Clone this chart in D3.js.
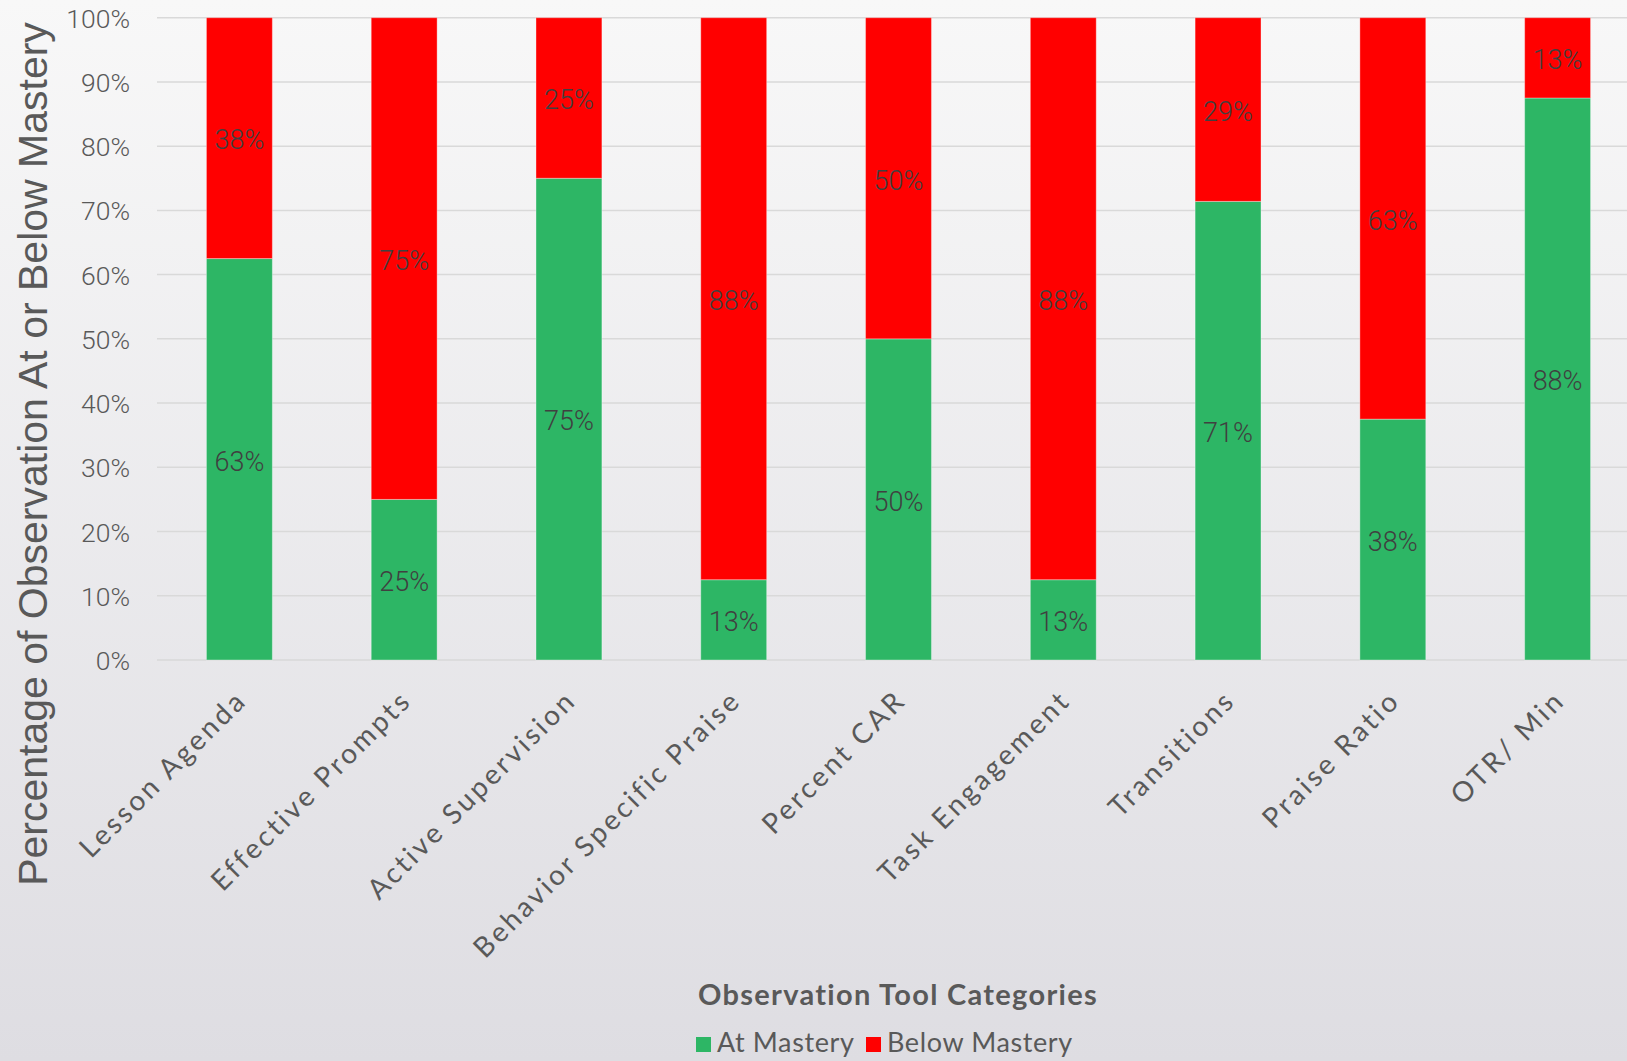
<!DOCTYPE html>
<html>
<head>
<meta charset="utf-8">
<script src="https://cdn.jsdelivr.net/npm/d3@7/dist/d3.min.js"></script>
<style>
  html, body { margin: 0; padding: 0; overflow: hidden; }
  svg { display: block; }
</style>
</head>
<body>
<svg id="chart" width="1627" height="1061"></svg>
<script>
const categories = ["Lesson Agenda", "Effective Prompts", "Active Supervision", "Behavior Specific Praise",
  "Percent CAR", "Task Engagement", "Transitions", "Praise Ratio", "OTR/ Min"];
const atMastery = [62.5, 25, 75, 12.5, 50, 12.5, 71.4, 37.5, 87.5];
const belowMastery = [37.5, 75, 25, 87.5, 50, 87.5, 28.6, 62.5, 12.5];
const seriesNames = ["At Mastery", "Below Mastery"];
const yTicks = [0, 10, 20, 30, 40, 50, 60, 70, 80, 90, 100];

const W = 1627, H = 1061;
const svg = d3.select("#chart");

// background gradient
const defs = svg.append("defs");
const grad = defs.append("linearGradient").attr("id", "bg").attr("x1", 0).attr("y1", 0).attr("x2", 0).attr("y2", 1);
grad.append("stop").attr("offset", "0%").attr("stop-color", "#f8f8f8");
grad.append("stop").attr("offset", "100%").attr("stop-color", "#dedde2");
svg.append("rect").attr("width", W).attr("height", H).attr("fill", "url(#bg)");

const plot = { left: 157, right: 1640, top: 17.7, bottom: 660 };
const x = d3.scaleBand().domain(categories).range([plot.left, plot.right]).paddingInner(0.6).paddingOuter(0.3);
const y = d3.scaleLinear().domain([0, 100]).range([plot.bottom, plot.top]);
const color = d3.scaleOrdinal().domain(seriesNames).range(["#2db665", "#ff0000"]);

// gridlines
svg.append("g").selectAll("line").data(yTicks).join("line")
  .attr("x1", plot.left).attr("x2", W)
  .attr("y1", d => y(d)).attr("y2", d => y(d))
  .attr("stroke", "#d9d9d9").attr("stroke-width", 1.5);

// y axis labels
const yAxis = d3.axisLeft(y).tickValues(yTicks).tickFormat(d => d + "%").tickSize(0).tickPadding(0);
const yg = svg.append("g").attr("transform", `translate(130,0)`).call(yAxis);
yg.select(".domain").remove();
yg.selectAll("text").attr("font-family", "Roboto, sans-serif").attr("font-weight", 300)
  .attr("font-size", 26.5).attr("fill", "#595959").attr("dy", "0.36em");

// stacked data
const rows = categories.map((c, i) => ({ cat: c, "At Mastery": atMastery[i], "Below Mastery": belowMastery[i] }));
const stack = d3.stack().keys(seriesNames)(rows);

const layers = svg.append("g").selectAll("g").data(stack).join("g").attr("fill", d => color(d.key));
layers.selectAll("rect").data(d => d).join("rect")
  .attr("x", d => x(d.data.cat))
  .attr("width", x.bandwidth())
  .attr("y", d => y(d[1]))
  .attr("height", d => y(d[0]) - y(d[1]))
  .attr("stroke", "rgba(255,255,255,0.35)").attr("stroke-width", 1);

// data labels
const lab = svg.append("g");
stack.forEach(layer => {
  lab.selectAll(null).data(layer).join("text")
    .attr("x", d => x(d.data.cat) + x.bandwidth() / 2)
    .attr("y", d => y((d[0] + d[1]) / 2))
    .attr("text-anchor", "middle").attr("dy", "0.42em")
    .attr("font-family", "Roboto, sans-serif").attr("font-weight", 300)
    .attr("font-size", 27).attr("fill", "#404040")
    .text(d => Math.round(d[1] - d[0]) + "%");
});

// category labels
svg.append("g").selectAll("text").data(categories).join("text")
  .attr("transform", d => `translate(${x(d) + x.bandwidth() / 2 + 9},${plot.bottom + 42}) rotate(-45)`)
  .attr("text-anchor", "end")
  .attr("font-family", "Lato, sans-serif").attr("font-size", 28).attr("letter-spacing", "3px")
  .attr("fill", "#595959")
  .text(d => d);

// y axis title
svg.append("text")
  .attr("transform", `translate(47,454) rotate(-90)`)
  .attr("text-anchor", "middle")
  .attr("font-family", "'Liberation Sans Narrow', 'Arial Narrow', sans-serif")
  .attr("font-size", 41).attr("fill", "#595959")
  .text("Percentage of Observation At or Below Mastery");

// x axis title
svg.append("text")
  .attr("x", 898).attr("y", 1005).attr("text-anchor", "middle")
  .attr("font-family", "Lato, sans-serif").attr("font-weight", 700)
  .attr("font-size", 29).attr("letter-spacing", "1.3px").attr("fill", "#595959")
  .text("Observation Tool Categories");

// legend
const legendX = [696, 866];
const lg = svg.append("g").selectAll("g").data(seriesNames).join("g")
  .attr("transform", (d, i) => `translate(${legendX[i]},1037)`);
lg.append("rect").attr("width", 15).attr("height", 15).attr("fill", d => color(d));
lg.append("text").attr("x", 21).attr("y", 15)
  .attr("font-family", "Lato, sans-serif").attr("font-size", 27).attr("letter-spacing", "0.6px")
  .attr("fill", "#595959")
  .text(d => d);
</script>
</body>
</html>
